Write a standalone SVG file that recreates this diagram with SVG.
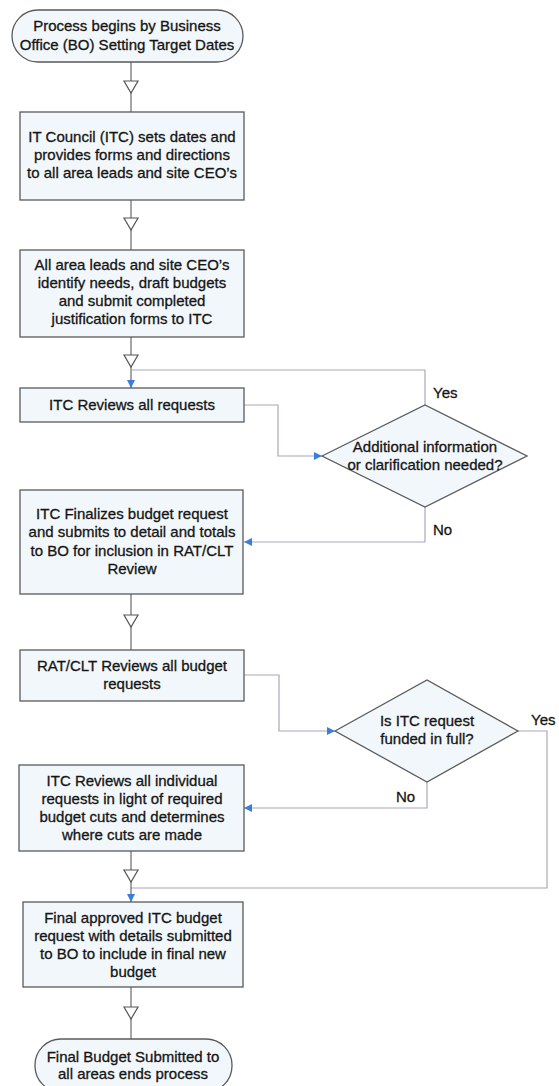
<svg xmlns="http://www.w3.org/2000/svg" xmlns:xlink="http://www.w3.org/1999/xlink" width="559" height="1086" viewBox="0 0 559 1086">
<style>
.shape{fill:#f1f7fa;stroke:#5a5a5a;stroke-width:1.3}
.t{font-family:"Liberation Sans",Arial,sans-serif;font-size:15px;fill:#151515;stroke:#151515;stroke-width:0.3;text-anchor:middle}
.lbl{font-family:"Liberation Sans",Arial,sans-serif;font-size:15px;fill:#151515;stroke:#151515;stroke-width:0.3}
.c{fill:none;stroke:#a8a8bf;stroke-width:1.2}
.m{fill:none;stroke:#6a6a6a;stroke-width:1.2}
.tri{fill:#ffffff;stroke:#555;stroke-width:1.2}
</style>
<defs>
<marker id="blue" viewBox="0 0 10 10" refX="10" refY="5" markerWidth="10" markerHeight="8" markerUnits="userSpaceOnUse" orient="auto">
<path d="M0,0 L10,5 L0,10 Z" fill="#3b7dd8"/>
</marker>
<polygon id="hollow" points="-7,0 7,0 0,12" class="tri"/>
</defs>
<rect width="559" height="1086" fill="#ffffff"/>
<g id="connectors">
<line class="m" x1="131" y1="62" x2="131" y2="112"/>
<use xlink:href="#hollow" x="131" y="81"/>
<line class="m" x1="131" y1="200" x2="131" y2="250"/>
<use xlink:href="#hollow" x="131" y="218"/>
<line class="m" x1="131" y1="337" x2="131" y2="388" marker-end="url(#blue)"/>
<use xlink:href="#hollow" x="131" y="355"/>
<polyline class="c" points="425,405 425,370 131,370"/>
<polyline class="c" points="244,405 278,405 278,456 322,456" marker-end="url(#blue)"/>
<polyline class="c" points="425,507 425,542 244,542" marker-end="url(#blue)"/>
<line class="m" x1="131" y1="594" x2="131" y2="650"/>
<use xlink:href="#hollow" x="131" y="615"/>
<polyline class="c" points="244,675 279,675 279,731 335,731" marker-end="url(#blue)"/>
<polyline class="c" points="427,782 427,808 244,808" marker-end="url(#blue)"/>
<polyline class="c" points="518,731 547,731 547,888 131,888"/>
<line class="m" x1="131" y1="851" x2="131" y2="902" marker-end="url(#blue)"/>
<use xlink:href="#hollow" x="131" y="870"/>
<line class="m" x1="131" y1="987" x2="131" y2="1039"/>
<use xlink:href="#hollow" x="131" y="1007"/>
<text class="lbl" x="433" y="398">Yes</text>
<text class="lbl" x="433" y="535">No</text>
<text class="lbl" x="531" y="725">Yes</text>
<text class="lbl" x="396" y="802">No</text>
</g>
<g id="start">
<rect class="shape" x="12" y="10" width="231" height="52" rx="26"/>
<text class="t" x="127" y="31">Process begins by Business</text>
<text class="t" x="127" y="50">Office (BO) Setting Target Dates</text>
</g>
<g id="itc-sets-dates">
<rect class="shape" x="20" y="112" width="224" height="88"/>
<text class="t" x="132" y="142">IT Council (ITC) sets dates and</text>
<text class="t" x="132" y="160">provides forms and directions</text>
<text class="t" x="132" y="178">to all area leads and site CEO’s</text>
</g>
<g id="area-leads">
<rect class="shape" x="20" y="250" width="224" height="87"/>
<text class="t" x="132" y="270">All area leads and site CEO’s</text>
<text class="t" x="132" y="288">identify needs, draft budgets</text>
<text class="t" x="132" y="306">and submit completed</text>
<text class="t" x="132" y="324">justification forms to ITC</text>
</g>
<g id="itc-reviews">
<rect class="shape" x="20" y="388" width="224" height="34"/>
<text class="t" x="132" y="410">ITC Reviews all requests</text>
</g>
<g id="decision-info">
<polygon class="shape" points="322,456 425,405 527,456 425,507"/>
<text class="t" x="425" y="452">Additional information</text>
<text class="t" x="425" y="470">or clarification needed?</text>
</g>
<g id="itc-finalizes">
<rect class="shape" x="20" y="490" width="223" height="104"/>
<text class="t" x="132" y="519">ITC Finalizes budget request</text>
<text class="t" x="132" y="537">and submits to detail and totals</text>
<text class="t" x="132" y="556">to BO for inclusion in RAT/CLT</text>
<text class="t" x="132" y="574">Review</text>
</g>
<g id="rat-clt">
<rect class="shape" x="20" y="650" width="224" height="51"/>
<text class="t" x="132" y="671">RAT/CLT Reviews all budget</text>
<text class="t" x="132" y="689">requests</text>
</g>
<g id="decision-funded">
<polygon class="shape" points="335,731 427,680 518,731 427,782"/>
<text class="t" x="427" y="726">Is ITC request</text>
<text class="t" x="427" y="744">funded in full?</text>
</g>
<g id="itc-cuts">
<rect class="shape" x="19" y="765" width="225" height="86"/>
<text class="t" x="132" y="786">ITC Reviews all individual</text>
<text class="t" x="132" y="804">requests in light of required</text>
<text class="t" x="132" y="822">budget cuts and determines</text>
<text class="t" x="132" y="840">where cuts are made</text>
</g>
<g id="final-approved">
<rect class="shape" x="23" y="902" width="220" height="85"/>
<text class="t" x="133" y="923">Final approved ITC budget</text>
<text class="t" x="133" y="941">request with details submitted</text>
<text class="t" x="133" y="959">to BO to include in final new</text>
<text class="t" x="133" y="977">budget</text>
</g>
<g id="end">
<rect class="shape" x="35" y="1039" width="197" height="53" rx="26"/>
<text class="t" x="133" y="1062">Final Budget Submitted to</text>
<text class="t" x="133" y="1079">all areas ends process</text>
</g>
</svg>
